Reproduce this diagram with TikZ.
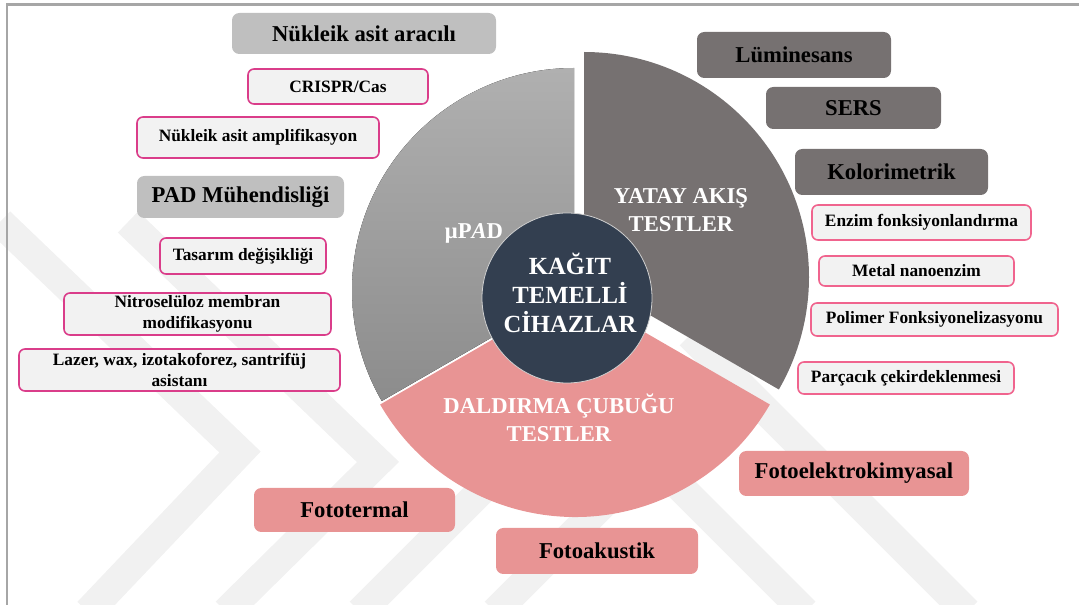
\documentclass[tikz,border=0pt]{standalone}
\usepackage{fontspec}
\setmainfont{Liberation Serif}
\newdimen\unitpx \unitpx=0.75pt
\definecolor{cMark}{HTML}{F1F1F1}
\definecolor{cFrame}{HTML}{A6A6A6}
\definecolor{cLightTop}{HTML}{B0B0B0}
\definecolor{cLightBot}{HTML}{8C8C8C}
\definecolor{cDark}{HTML}{767171}
\definecolor{cPink}{HTML}{E89494}
\definecolor{cCore}{HTML}{333F50}
\definecolor{cRim}{HTML}{D0D0D0}
\definecolor{cBoxGray}{HTML}{BFBFBF}
\definecolor{cItem}{HTML}{F2F2F2}
\definecolor{cEdgeL}{HTML}{DA3D8A}
\definecolor{cEdgeR}{HTML}{F0648E}

\begin{document}
\begin{tikzpicture}[x=0.75pt, y=-0.75pt, box/.style={rounded corners=5.5pt, inner sep=0pt, align=center, font=\fontsize{17}{20}\selectfont\bfseries}, graybox/.style={box, fill=cBoxGray}, darkbox/.style={box, fill=cDark}, pinkbox/.style={box, fill=cPink}, itembox/.style={box, fill=cItem, line width=1.2pt, rounded corners=4.5pt, font=\fontsize{13}{15.75}\selectfont\bfseries}, itemL/.style={itembox, draw=cEdgeL}, itemR/.style={itembox, draw=cEdgeR}, seclabel/.style={text=white, align=center, inner sep=0pt, font=\fontsize{17}{21}\selectfont\bfseries}, watermark/.style={draw=cMark, line width=22pt, line join=miter}]

  \useasboundingbox (0,0) rectangle (1079,605);

  \draw[watermark] (0,222) -- (240,452) -- (88,612);
  \draw[watermark] (128,222) -- (378,462) -- (226,612);
  \draw[watermark] (360,612) -- (560,412);
  \draw[watermark] (495,612) -- (640,467);
  \draw[watermark] (580,387) -- (805,612);
  \draw[watermark] (690,335) -- (967,612);
  \draw[cFrame, line width=1.8pt] (7,607) -- (7,4.5) -- (1081,4.5);

  \fill[top color=cLightTop, bottom color=cLightBot] (574,290) -- ++(-90:222) arc[start angle=-90, end angle=-210, radius=222] -- cycle;
  \fill[cDark] (584,277) -- ++(-90:225) arc[start angle=-90, end angle=30, radius=225] -- cycle;
  \fill[cPink] (575,292) -- ++(-210:225) arc[start angle=-210, end angle=-330, radius=225] -- cycle;

  \node[circle, fill=cCore, draw=cRim, line width=0.6pt, minimum size=170\unitpx] (core) at (567,298) {};
  \node[seclabel, font=\fontsize{18.5}{21.75}\selectfont\bfseries] (coretext) at (570,292.5) {KAĞIT\\TEMELLİ\\CİHAZLAR};
  \node[seclabel] (upad) at (474,233) {μP\textit{A}D};
  \node[seclabel] (yatay) at (681,210) {YATAY AKIŞ\\TESTLER};
  \node[seclabel] (daldirma) at (559,418) {DALDIRMA ÇUBUĞU\\TESTLER};

  \node[graybox, minimum width=264\unitpx, minimum height=41\unitpx] (nukleik) at (364,33.5) {Nükleik asit aracılı};
  \node[itemL, minimum width=180\unitpx, minimum height=35\unitpx] (crispr) at (338,86.5) {CRISPR/Cas};
  \node[itemL, minimum width=242\unitpx, minimum height=41\unitpx] (amplif) at (258,137.5) {Nükleik asit amplifikasyon};
  \node[graybox, minimum width=207\unitpx, minimum height=42\unitpx] (padmuh) at (240.5,197) {PAD Mühendisliği};
  \node[itemL, minimum width=166\unitpx, minimum height=36\unitpx] (tasarim) at (243,256) {Tasarım değişikliği};
  \node[itemL, minimum width=267\unitpx, minimum height=42\unitpx] (nitro) at (197.5,314) {Nitroselüloz membran\\modifikasyonu};
  \node[itemL, minimum width=321\unitpx, minimum height=42\unitpx] (lazer) at (179.5,370) {Lazer, wax, izotakoforez, santrifüj\\asistanı};

  \node[darkbox, minimum width=194\unitpx, minimum height=46\unitpx] (lumin) at (794,55) {Lüminesans};
  \node[darkbox, minimum width=175\unitpx, minimum height=42\unitpx] (sers) at (853.5,108) {SERS};
  \node[darkbox, minimum width=193\unitpx, minimum height=46\unitpx] (kolor) at (891.5,172) {Kolorimetrik};
  \node[itemR, minimum width=219\unitpx, minimum height=35\unitpx] (enzim) at (921.5,222.5) {Enzim fonksiyonlandırma};
  \node[itemR, minimum width=195\unitpx, minimum height=30\unitpx] (metal) at (916.5,271) {Metal nanoenzim};
  \node[itemR, minimum width=247\unitpx, minimum height=33\unitpx] (polimer) at (934.5,319.5) {Polimer Fonksiyonelizasyonu};
  \node[itemR, minimum width=216\unitpx, minimum height=32\unitpx] (parcacik) at (906,378) {Parçacık çekirdeklenmesi};

  \node[pinkbox, minimum width=230\unitpx, minimum height=45\unitpx] (fotoel) at (854,473.5) {Fotoelektrokimyasal};
  \node[pinkbox, minimum width=201\unitpx, minimum height=44\unitpx] (fototer) at (354.5,510) {Fototermal};
  \node[pinkbox, minimum width=202\unitpx, minimum height=46\unitpx] (fotoak) at (597,551) {Fotoakustik};
\end{tikzpicture}
\end{document}
